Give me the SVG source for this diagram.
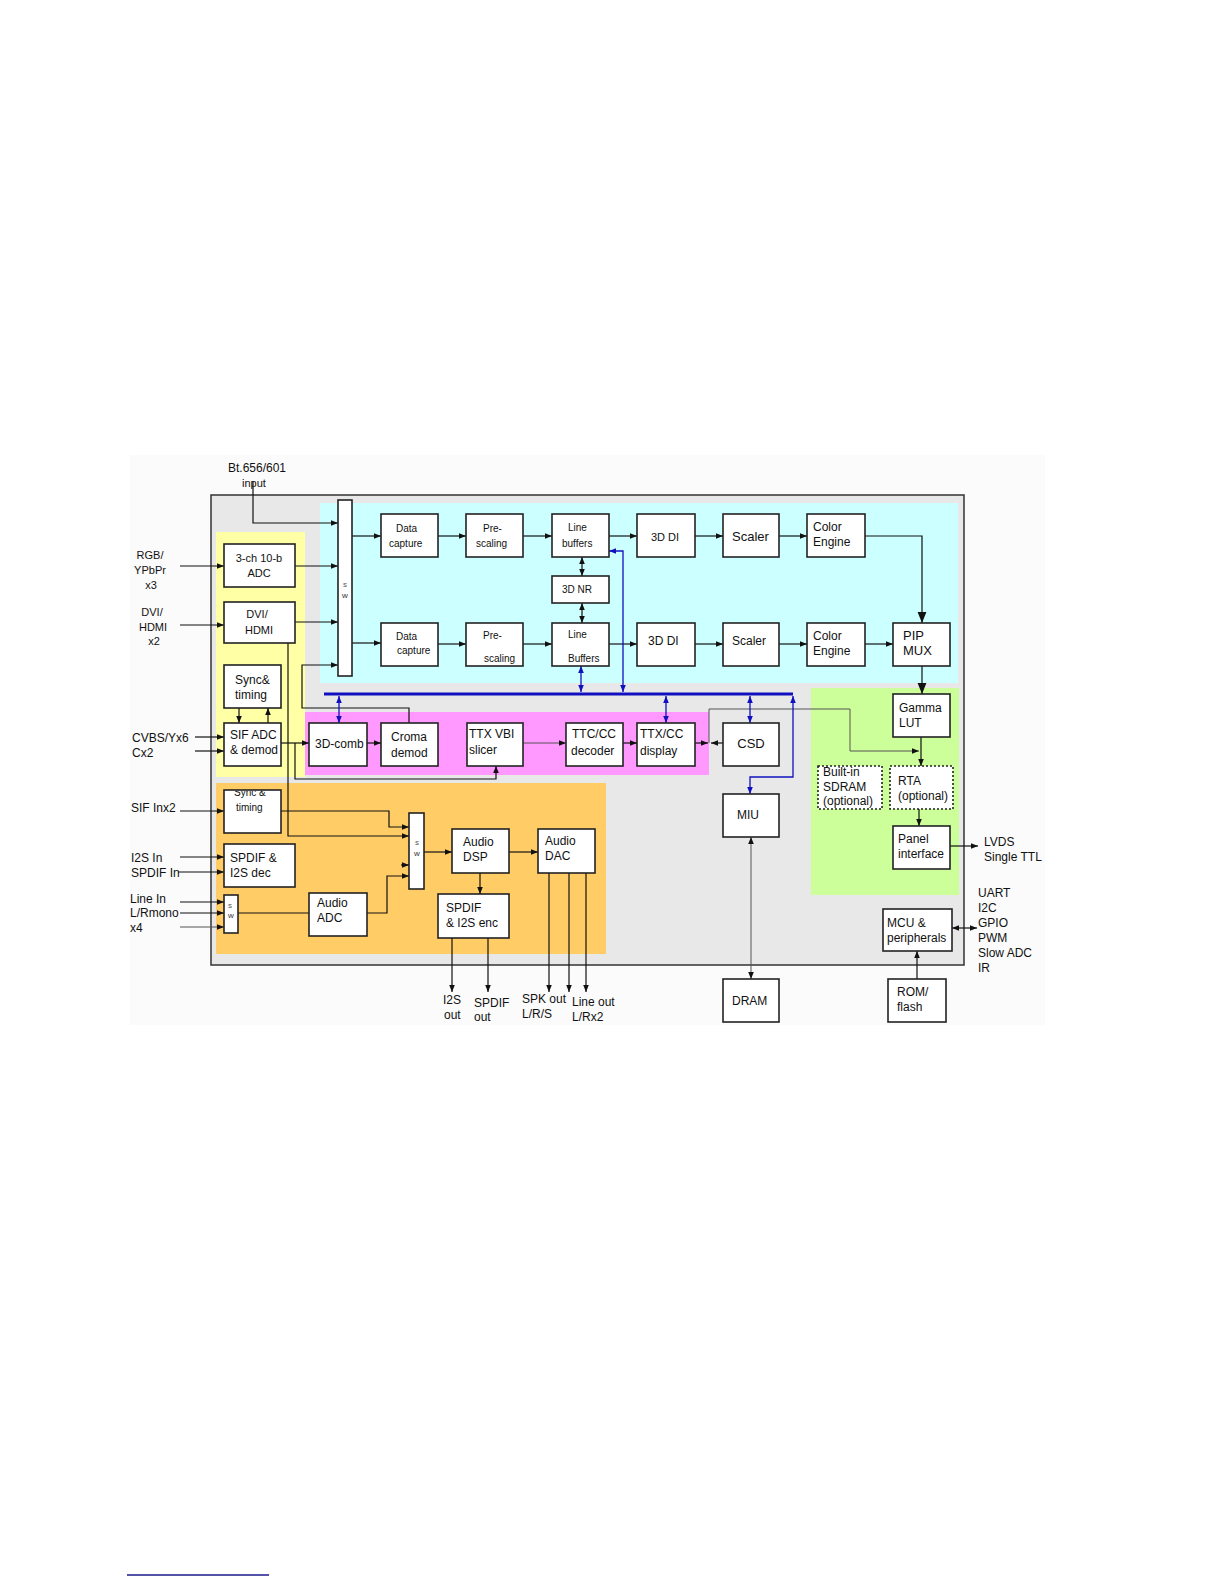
<svg xmlns="http://www.w3.org/2000/svg" width="1224" height="1584" viewBox="0 0 1224 1584">
<style>
text{font-family:"Liberation Sans",Arial,sans-serif;font-size:12px;fill:#111}
.s{font-size:10px}
.m{font-size:11px}
.l{font-size:13px}
.t{font-size:8px;fill:#555}
.c{text-anchor:middle}
.box{fill:#fff;stroke:#222;stroke-width:1.6}
.dot{fill:#fff;stroke:#222;stroke-width:1.6;stroke-dasharray:2 2}
.k{fill:none;stroke:#111;stroke-width:1.2}
.g{fill:none;stroke:#555;stroke-width:1}
.b{fill:none;stroke:#1010c0;stroke-width:1.3}
</style>
<defs>
<marker id="a" viewBox="0 0 10 10" refX="10" refY="5" markerWidth="7" markerHeight="7" orient="auto-start-reverse" markerUnits="userSpaceOnUse"><path d="M0,1 L10,5 L0,9 z" fill="#111"/></marker>
<marker id="A" viewBox="0 0 10 10" refX="10" refY="5" markerWidth="11" markerHeight="11" orient="auto-start-reverse" markerUnits="userSpaceOnUse"><path d="M0,1 L10,5 L0,9 z" fill="#111"/></marker>
<marker id="bl" viewBox="0 0 10 10" refX="10" refY="5" markerWidth="7" markerHeight="7" orient="auto-start-reverse" markerUnits="userSpaceOnUse"><path d="M0,1 L10,5 L0,9 z" fill="#1010c0"/></marker>
<clipPath id="cl"><rect x="225" y="791" width="55" height="41"/></clipPath>
</defs>

<g id="background">
<rect x="130" y="455" width="915" height="570" fill="#fbfbfb"/>
<rect x="211" y="495" width="753" height="470" fill="#e8e8e8" stroke="#333" stroke-width="1.5"/>
<rect x="320" y="503" width="638" height="180" fill="#ccffff"/>
<rect x="216" y="532" width="89" height="245" fill="#ffffa6"/>
<rect x="305" y="712" width="404" height="63" fill="#ff99ff"/>
<rect x="216" y="783" width="390" height="171" fill="#ffcc66"/>
<rect x="811" y="688" width="148" height="207" fill="#ccff99"/>
<line x1="127" y1="1575" x2="269" y2="1575" stroke="#1a1a8c" stroke-width="1.5"/>
</g>

<g id="connectors">
<path class="k" d="M253,481 V523 H338" marker-end="url(#a)"/>
<path class="k" d="M180,566 H224" marker-end="url(#a)"/>
<path class="k" d="M180,625 H224" marker-end="url(#a)"/>
<path class="k" d="M295,566 H338" marker-end="url(#a)"/>
<path class="k" d="M295,622 H338" marker-end="url(#a)"/>
<path class="k" d="M352,536 H381" marker-end="url(#a)"/>
<path class="k" d="M352,643 H381" marker-end="url(#a)"/>
<path class="k" d="M438,536 H466" marker-end="url(#a)"/>
<path class="k" d="M523,536 H552" marker-end="url(#a)"/>
<path class="k" d="M609,536 H637" marker-end="url(#a)"/>
<path class="k" d="M695,536 H723" marker-end="url(#a)"/>
<path class="k" d="M779,536 H807" marker-end="url(#a)"/>
<path class="k" d="M438,644 H466" marker-end="url(#a)"/>
<path class="k" d="M523,644 H552" marker-end="url(#a)"/>
<path class="k" d="M609,644 H637" marker-end="url(#a)"/>
<path class="k" d="M695,644 H723" marker-end="url(#a)"/>
<path class="k" d="M779,644 H807" marker-end="url(#a)"/>
<path class="k" d="M865,536 H922 V623" marker-end="url(#A)"/>
<path class="k" d="M865,644 H893" marker-end="url(#a)"/>
<path class="k" d="M922,666 V694" marker-end="url(#A)"/>
<path class="k" d="M582,557 V576" marker-start="url(#a)" marker-end="url(#a)"/>
<path class="k" d="M582,603 V623" marker-start="url(#a)" marker-end="url(#a)"/>
<path class="k" d="M409,723 V708 H302 V665 H338" marker-end="url(#a)"/>
<path class="k" d="M288,643 V836 H409" marker-end="url(#a)"/>
<path class="k" d="M239,708 V723" marker-end="url(#a)"/>
<path class="k" d="M268,723 V708" marker-end="url(#a)"/>
<path class="k" d="M195,737 H224" marker-end="url(#a)"/>
<path class="k" d="M195,751 H224" marker-end="url(#a)"/>
<path class="k" d="M281,743 H309" marker-end="url(#a)"/>
<path class="k" d="M295,743 V779 H496 V766" marker-end="url(#a)"/>
<path class="k" d="M367,743 H381" marker-end="url(#a)"/>
<path class="g" d="M523,743 H566" marker-end="url(#a)"/>
<path class="k" d="M623,743 H637" marker-end="url(#a)"/>
<path class="k" d="M695,743 H708" marker-end="url(#a)"/>
<path class="k" d="M723,743 H711" marker-end="url(#a)"/>
<path class="g" d="M709,743 V709 H850 V751 H919" marker-end="url(#a)"/>
<path class="k" d="M921,737 V766" marker-end="url(#a)"/>
<path class="k" d="M919,809 V826" marker-end="url(#a)"/>
<path class="k" d="M950,846 H978" marker-end="url(#a)"/>
<path class="g" d="M751,837 V979" marker-start="url(#a)" marker-end="url(#a)"/>
<path class="k" d="M917,979 V951" marker-end="url(#a)"/>
<path class="k" d="M952,928 H977" marker-start="url(#a)" marker-end="url(#a)"/>
<path class="k" d="M180,811 H224" marker-end="url(#a)"/>
<path class="k" d="M281,811 H389 V827 H409" marker-end="url(#a)"/>
<path class="k" d="M180,857 H224" marker-end="url(#a)"/>
<path class="k" d="M178,872 H224" marker-end="url(#a)"/>
<path class="k" d="M401,865 H409" marker-end="url(#a)"/>
<path class="k" d="M367,913 H387 V876 H409" marker-end="url(#a)"/>
<path class="k" d="M238,913 H309"/>
<path class="k" d="M180,902 H224" marker-end="url(#a)"/>
<path class="k" d="M180,913 H224" marker-end="url(#a)"/>
<path class="g" d="M180,927 H224" marker-end="url(#a)"/>
<path class="k" d="M424,852 H452" marker-end="url(#a)"/>
<path class="k" d="M509,852 H538" marker-end="url(#a)"/>
<path class="k" d="M480,873 V894" marker-end="url(#a)"/>
<path class="k" d="M452,938 V992" marker-end="url(#a)"/>
<path class="k" d="M488,938 V992" marker-end="url(#a)"/>
<path class="k" d="M549,873 V992" marker-end="url(#a)"/>
<path class="k" d="M569,873 V992" marker-end="url(#a)"/>
<path class="k" d="M586,873 V992" marker-end="url(#a)"/>
<path d="M324,694 H793" fill="none" stroke="#1010c0" stroke-width="3"/>
<path class="b" d="M339,696 V723" marker-start="url(#bl)" marker-end="url(#bl)"/>
<path class="b" d="M581,666 V692" marker-start="url(#bl)" marker-end="url(#bl)"/>
<path class="b" d="M623,692 V551 H609" marker-start="url(#bl)" marker-end="url(#bl)"/>
<path class="b" d="M666,696 V723" marker-start="url(#bl)" marker-end="url(#bl)"/>
<path class="b" d="M750,696 V723" marker-start="url(#bl)" marker-end="url(#bl)"/>
<path class="b" d="M793,696 V777 H750 V794" marker-start="url(#bl)" marker-end="url(#bl)"/>
</g>

<g id="labels">
<text class="c" x="257" y="472">Bt.656/601</text>
<text class="c" x="254" y="487" style="font-size:11px">input</text>
<text class="c m" x="150" y="559">RGB/</text>
<text class="c m" x="150" y="574">YPbPr</text>
<text class="c m" x="151" y="589">x3</text>
<text class="c m" x="152" y="616">DVI/</text>
<text class="c m" x="153" y="631">HDMI</text>
<text class="c m" x="154" y="645">x2</text>
<text x="132" y="742">CVBS/Yx6</text>
<text x="132" y="757">Cx2</text>
<text x="131" y="812">SIF Inx2</text>
<text x="131" y="862">I2S In</text>
<text x="131" y="877">SPDIF In</text>
<text x="130" y="903">Line In</text>
<text x="130" y="917">L/Rmono</text>
<text x="130" y="932">x4</text>
<text x="443" y="1004">I2S</text>
<text x="444" y="1019">out</text>
<text x="474" y="1007">SPDIF</text>
<text x="474" y="1021">out</text>
<text x="522" y="1003">SPK out</text>
<text x="522" y="1018">L/R/S</text>
<text x="572" y="1006">Line out</text>
<text x="572" y="1021">L/Rx2</text>
<text x="984" y="846">LVDS</text>
<text x="984" y="861">Single TTL</text>
<text x="978" y="897">UART</text>
<text x="978" y="912">I2C</text>
<text x="978" y="927">GPIO</text>
<text x="978" y="942">PWM</text>
<text x="978" y="957">Slow ADC</text>
<text x="978" y="972">IR</text>
</g>

<g id="sw_video"><rect class="box" x="338" y="500" width="14" height="176"/><text class="t c" x="345" y="587">s</text><text class="t c" x="345" y="598" style="fill:#333">w</text></g>
<g id="adc3ch"><rect class="box" x="224" y="544" width="71" height="43"/><text class="c m" x="259" y="562">3-ch 10-b</text><text class="c m" x="259" y="577">ADC</text></g>
<g id="dvi_hdmi"><rect class="box" x="224" y="602" width="71" height="41"/><text class="c m" x="257" y="618">DVI/</text><text class="c m" x="259" y="634">HDMI</text></g>
<g id="data_capture_1"><rect class="box" x="381" y="514" width="57" height="43"/><text class="s" x="396" y="532">Data</text><text class="s" x="389" y="547">capture</text></g>
<g id="data_capture_2"><rect class="box" x="381" y="623" width="57" height="43"/><text class="s" x="396" y="640">Data</text><text class="s" x="397" y="654">capture</text></g>
<g id="prescaling_1"><rect class="box" x="466" y="514" width="57" height="43"/><text class="s" x="483" y="532">Pre-</text><text class="s" x="476" y="547">scaling</text></g>
<g id="prescaling_2"><rect class="box" x="466" y="623" width="57" height="43"/><text class="s" x="483" y="639">Pre-</text><text class="s" x="484" y="662">scaling</text></g>
<g id="line_buffers_1"><rect class="box" x="552" y="514" width="57" height="43"/><text class="s" x="568" y="531">Line</text><text class="s" x="562" y="547">buffers</text></g>
<g id="nr3d"><rect class="box" x="552" y="576" width="57" height="27"/><text class="s" x="562" y="593">3D NR</text></g>
<g id="line_buffers_2"><rect class="box" x="552" y="623" width="57" height="43"/><text class="s" x="568" y="638">Line</text><text class="s" x="568" y="662">Buffers</text></g>
<g id="di3d_1"><rect class="box" x="637" y="514" width="58" height="43"/><text class="m" x="651" y="541">3D DI</text></g>
<g id="di3d_2"><rect class="box" x="637" y="623" width="58" height="43"/><text x="648" y="645">3D DI</text></g>
<g id="scaler_1"><rect class="box" x="723" y="514" width="56" height="43"/><text class="l" x="732" y="541">Scaler</text></g>
<g id="scaler_2"><rect class="box" x="723" y="623" width="56" height="43"/><text x="732" y="645">Scaler</text></g>
<g id="color_engine_1"><rect class="box" x="807" y="514" width="58" height="43"/><text x="813" y="531">Color</text><text x="813" y="546">Engine</text></g>
<g id="color_engine_2"><rect class="box" x="807" y="623" width="58" height="43"/><text x="813" y="640">Color</text><text x="813" y="655">Engine</text></g>
<g id="pip_mux"><rect class="box" x="893" y="623" width="57" height="43"/><text class="l" x="903" y="640">PIP</text><text class="l" x="903" y="655">MUX</text></g>
<g id="gamma_lut"><rect class="box" x="893" y="694" width="57" height="43"/><text x="899" y="712">Gamma</text><text x="899" y="727">LUT</text></g>
<g id="sdram"><rect class="dot" x="818" y="766" width="64" height="43"/><text x="823" y="776">Built-in</text><text x="823" y="791">SDRAM</text><text x="823" y="805">(optional)</text></g>
<g id="rta"><rect class="dot" x="890" y="766" width="63" height="43"/><text x="898" y="785">RTA</text><text x="898" y="800">(optional)</text></g>
<g id="panel_interface"><rect class="box" x="893" y="826" width="57" height="43"/><text x="898" y="843">Panel</text><text x="898" y="858">interface</text></g>
<g id="csd"><rect class="box" x="723" y="723" width="56" height="43"/><text class="c l" x="751" y="748">CSD</text></g>
<g id="miu"><rect class="box" x="723" y="794" width="56" height="43"/><text class="c" x="748" y="819">MIU</text></g>
<g id="dram"><rect class="box" x="723" y="979" width="56" height="43"/><text x="732" y="1005">DRAM</text></g>
<g id="rom_flash"><rect class="box" x="888" y="979" width="58" height="43"/><text x="897" y="996">ROM/</text><text x="897" y="1011">flash</text></g>
<g id="mcu"><rect class="box" x="883" y="909" width="69" height="42"/><text x="887" y="927">MCU &amp;</text><text x="887" y="942">peripherals</text></g>
<g id="sync_timing_1"><rect class="box" x="224" y="665" width="57" height="43"/><text x="235" y="684">Sync&amp;</text><text x="235" y="699">timing</text></g>
<g id="sif_adc"><rect class="box" x="224" y="723" width="57" height="43"/><text x="230" y="739">SIF ADC</text><text x="230" y="754">&amp; demod</text></g>
<g id="comb3d"><rect class="box" x="309" y="723" width="58" height="43"/><text x="315" y="748">3D-comb</text></g>
<g id="croma_demod"><rect class="box" x="381" y="723" width="57" height="43"/><text x="391" y="741">Croma</text><text x="391" y="757">demod</text></g>
<g id="ttx_vbi"><rect class="box" x="467" y="723" width="56" height="43"/><text x="469" y="738">TTX VBI</text><text x="469" y="754">slicer</text></g>
<g id="ttc_decoder"><rect class="box" x="566" y="723" width="57" height="43"/><text x="572" y="738">TTC/CC</text><text x="571" y="755">decoder</text></g>
<g id="ttx_display"><rect class="box" x="637" y="723" width="58" height="43"/><text x="640" y="738">TTX/CC</text><text x="640" y="755">display</text></g>
<g id="sync_timing_2"><rect class="box" x="224" y="790" width="57" height="43"/><text class="s" x="234" y="796" clip-path="url(#cl)">Sync &amp;</text><text class="s" x="236" y="811">timing</text></g>
<g id="spdif_dec"><rect class="box" x="224" y="844" width="71" height="43"/><text x="230" y="862">SPDIF &amp;</text><text x="230" y="877">I2S dec</text></g>
<g id="sw_line"><rect class="box" x="224" y="895" width="14" height="38"/><text class="t c" x="230" y="908">s</text><text class="t c" x="231" y="918" style="fill:#333">w</text></g>
<g id="audio_adc"><rect class="box" x="309" y="893" width="58" height="43"/><text x="317" y="907">Audio</text><text x="317" y="922">ADC</text></g>
<g id="sw_audio"><rect class="box" x="409" y="813" width="15" height="76"/><text class="t c" x="417" y="845">s</text><text class="t c" x="417" y="856" style="fill:#333">w</text></g>
<g id="audio_dsp"><rect class="box" x="452" y="829" width="57" height="44"/><text x="463" y="846">Audio</text><text x="463" y="861">DSP</text></g>
<g id="audio_dac"><rect class="box" x="538" y="829" width="57" height="44"/><text x="545" y="845">Audio</text><text x="545" y="860">DAC</text></g>
<g id="spdif_enc"><rect class="box" x="438" y="894" width="71" height="44"/><text x="446" y="912">SPDIF</text><text x="446" y="927">&amp; I2S enc</text></g>
</svg>
